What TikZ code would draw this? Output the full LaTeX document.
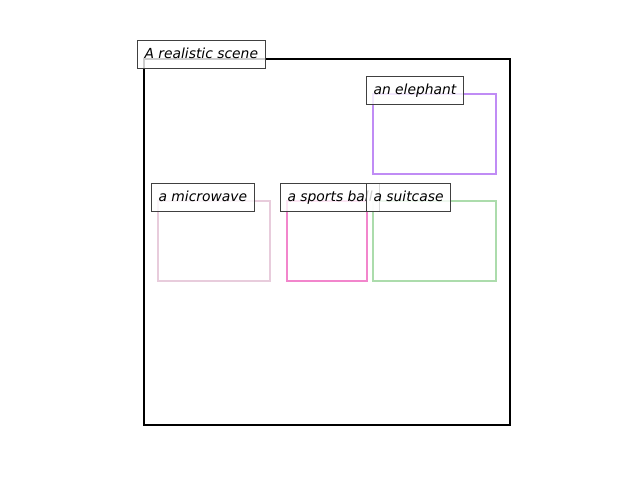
\documentclass[tikz,border=0pt]{standalone}
\usepackage{fontspec}
\setmainfont{DejaVu Sans}
\begin{document}
\begin{tikzpicture}[x=0.75pt,y=-0.75pt,
  objbox/.style={draw, line width=1.5pt, minimum width=#1, inner sep=0pt},
  labelbox/.style={draw=black!75, line width=0.75pt, fill=white, fill opacity=0.8, text opacity=1,
    font=\fontsize{10.4pt}{12pt}\selectfont\itshape, inner xsep=5.25pt, inner ysep=0pt,
    minimum height=21pt, anchor=north west, text height=8pt, text depth=2.2pt}]
\useasboundingbox (0,0) rectangle (640,480);
\definecolor{cElephant}{RGB}{192,140,245}
\definecolor{cMicro}{RGB}{232,204,220}
\definecolor{cBall}{RGB}{242,134,204}
\definecolor{cSuit}{RGB}{172,220,172}
\draw[line width=1.5pt] (144,59) rectangle (510,425) coordinate (sceneSE);
\node[labelbox] (lscene) at (137,40) {A realistic scene};
\draw[cElephant, line width=1.5pt] (373,94) rectangle (496,174);
\node[labelbox] (lele) at (366,76) {an elephant};
\draw[cMicro, line width=1.5pt] (158,201) rectangle (270,281);
\node[labelbox] (lmic) at (151,183) {a microwave};
\draw[cBall, line width=1.5pt] (287,201) rectangle (367,281);
\draw[cSuit, line width=1.5pt] (373,201) rectangle (496,281);
\node[labelbox] (lball) at (280,183) {a sports ball};
\node[labelbox] (lsuit) at (366,183) {a suitcase};
\end{tikzpicture}
\end{document}
